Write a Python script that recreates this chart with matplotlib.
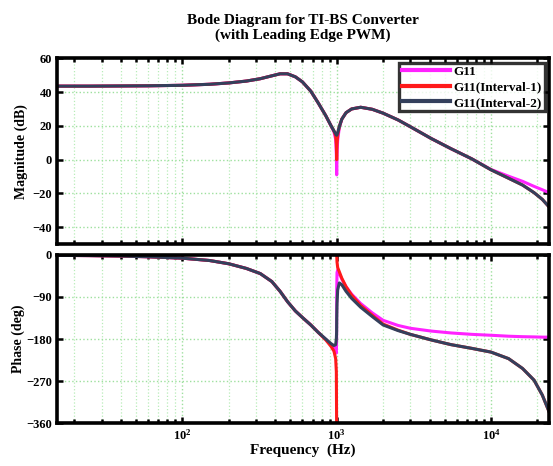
import numpy as np
import matplotlib
matplotlib.use("Agg")
from matplotlib import pyplot as plt
from matplotlib.ticker import LogLocator, NullFormatter

plt.rcParams['font.family'] = 'Liberation Serif'
plt.rcParams['font.weight'] = 'bold'
plt.rcParams['mathtext.fontset'] = 'custom'
plt.rcParams['mathtext.rm'] = 'Liberation Serif:bold'
plt.rcParams['mathtext.it'] = 'Liberation Serif:bold'
plt.rcParams['mathtext.bf'] = 'Liberation Serif:bold'

# frequency points (Hz), shared by every trace
freq = [15.4, 25, 40, 60, 100, 150, 200, 260, 320, 380, 430, 480, 540, 600,
        680, 760, 850, 920, 960, 985, 995, 999, 1000, 1001, 1005, 1015, 1040,
        1080, 1150, 1250, 1430, 1700, 2000, 2500, 3000, 4100, 5500, 7500,
        10000, 13000, 16000, 19000, 21500, 23800]

# magnitude (dB)
mag_g11 = [43.5, 43.5, 43.6, 43.7, 44.0, 44.6, 45.4, 46.5, 47.9, 49.6, 50.8,
           50.8, 49.0, 46.0, 40.5, 33.5, 26.0, 20.0, 16.5, 12.0, 3.0, -6.0,
           -9.0, -6.0, 3.0, 11.5, 19.0, 24.0, 27.8, 30.0, 31.0, 29.8, 27.5,
           23.5, 19.5, 12.5, 6.5, 0.5, -5.8, -9.8, -12.8, -15.8, -17.8, -19.5]
mag_int1 = [43.5, 43.5, 43.6, 43.7, 44.0, 44.6, 45.4, 46.5, 47.9, 49.6, 50.8,
            50.8, 49.0, 46.0, 40.5, 33.5, 26.0, 20.0, 17.0, 14.0, 9.0, 3.0,
            0.0, 3.0, 9.0, 14.5, 19.5, 24.0, 27.8, 30.0, 31.0, 29.8, 27.5,
            23.5, 19.5, 12.5, 6.5, 0.5, -6.0, -11.0, -15.0, -19.5, -23.5, -28.0]
mag_int2 = [43.5, 43.5, 43.6, 43.7, 44.0, 44.6, 45.4, 46.5, 47.9, 49.6, 50.8,
            50.8, 49.0, 46.0, 40.5, 33.5, 26.0, 20.0, 17.0, 15.3, 14.6, 14.5,
            14.5, 14.5, 14.8, 16.0, 19.5, 24.0, 27.8, 30.0, 31.0, 29.8, 27.5,
            23.5, 19.5, 12.5, 6.5, 0.5, -6.0, -11.0, -15.0, -19.5, -23.5, -28.0]

# phase (deg); nan marks the wrap of Interval-1 at the notch
ph_g11 = [-1, -1.5, -2.5, -4, -7, -12, -19, -29, -40, -57, -78, -100, -120,
          -134, -150, -166, -181, -193, -200, -208, -210, -180, -120, -70, -38,
          -32, -40, -52, -68, -84, -104, -124, -140, -151, -157, -163, -167,
          -170, -172, -174, -175, -175.5, -176, -176]
ph_int1 = [-1, -1.5, -2.5, -4, -7, -12, -19, -29, -40, -57, -78, -100, -120,
           -134, -150, -166, -182, -196, -206, -222, -250, -360, np.nan, -2,
           -15, -27, -36, -50, -68, -86, -108, -129, -148, -161, -170, -182,
           -192, -200, -208, -222, -243, -268, -300, -336]
ph_int2 = [-1, -1.5, -2.5, -4, -7, -12, -19, -29, -40, -57, -78, -100, -120,
           -134, -150, -166, -180, -190, -194, -192, -180, -165, -150, -135,
           -105, -75, -60, -64, -78, -93, -112, -132, -150, -162, -170, -182,
           -192, -200, -208, -222, -243, -268, -300, -336]

labels = ['G11', 'G11(Interval-1)', 'G11(Interval-2)']
colors = ['#ff22ff', '#ff1a1a', '#34405c']

fig = plt.figure(figsize=(5.53, 4.66), dpi=100)
ax1 = fig.add_axes([0.103, 0.476, 0.890, 0.399])
ax2 = fig.add_axes([0.103, 0.092, 0.890, 0.361])

for ys, c, lab in zip([mag_g11, mag_int1, mag_int2], colors, labels):
    ax1.semilogx(freq, ys, color=c, lw=2.2, label=lab)
for ys, c in zip([ph_g11, ph_int1, ph_int2], colors):
    ax2.semilogx(freq, ys, color=c, lw=2.2)

for ax in (ax1, ax2):
    ax.set_xlim(15.4, 23800)
    ax.xaxis.set_major_locator(LogLocator(base=10))
    ax.xaxis.set_minor_locator(LogLocator(base=10, subs=np.arange(2, 10)))
    ax.xaxis.set_minor_formatter(NullFormatter())
    ax.grid(which='major', color='#9ee09e', ls=':', lw=1.0)
    ax.grid(which='minor', axis='x', color='#b8ecb8', ls=':', lw=0.9)
    ax.tick_params(which='both', direction='in', top=True, right=True,
                   width=1.8, labelsize=9)
    ax.tick_params(which='major', length=4.5)
    ax.tick_params(which='minor', length=3)
    for s in ax.spines.values():
        s.set_linewidth(2.6)
    for t in ax.get_yticklabels() + ax.get_xticklabels():
        t.set_fontweight('bold')

ax1.set_ylim(-50, 60)
ax1.set_yticks([-40, -20, 0, 20, 40, 60])
ax1.set_xticklabels([])
ax1.set_ylabel('Magnitude (dB)', fontsize=10, fontweight='bold', labelpad=3)
ax1.set_title('Bode Diagram for TI-BS Converter\n(with Leading Edge PWM)',
              fontsize=11, fontweight='bold', pad=14, linespacing=1.15)
leg = ax1.legend(loc='upper right', fontsize=9.5, frameon=True, fancybox=False,
                 borderpad=0.2, labelspacing=0.25, handlelength=3.6,
                 handletextpad=0.3, borderaxespad=0.35)
leg.get_frame().set_edgecolor('black')
leg.get_frame().set_linewidth(2.4)
for line in leg.get_lines():
    line.set_linewidth(3)

ax2.set_ylim(-360, 0)
ax2.set_yticks([-360, -270, -180, -90, 0])
ax2.set_ylabel('Phase (deg)', fontsize=10, fontweight='bold', labelpad=1)
ax2.set_xlabel('Frequency  (Hz)', fontsize=11, fontweight='bold', labelpad=1)

fig.savefig('out.png', dpi=100)
